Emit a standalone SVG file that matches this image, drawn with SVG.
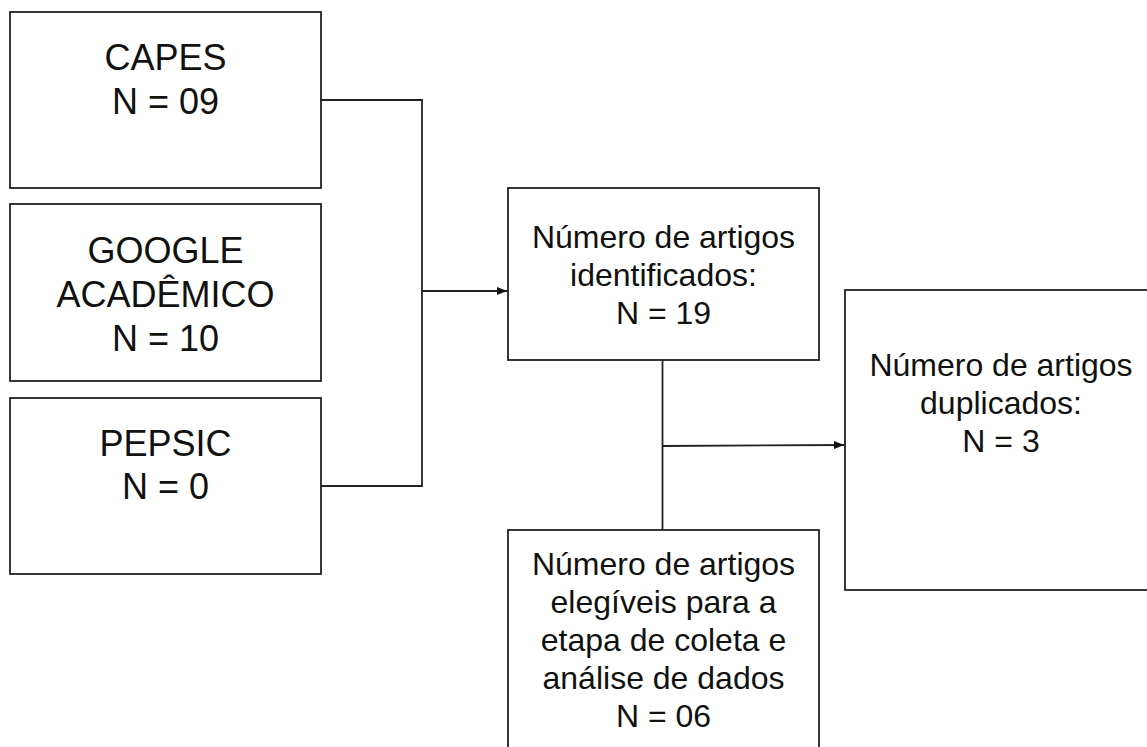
<svg xmlns="http://www.w3.org/2000/svg" width="1147" height="747" viewBox="0 0 1147 747">
<style>
.box{fill:#fff;stroke:#222;stroke-width:1.8}
.big{font-family:"Liberation Sans",Arial,sans-serif;font-size:36px;fill:#111;text-anchor:middle}
.mid{font-family:"Liberation Sans",Arial,sans-serif;font-size:32px;fill:#111;text-anchor:middle}
.ln{fill:none;stroke:#222;stroke-width:1.8}
</style>
<defs>
<marker id="arr" viewBox="0 0 10 8" refX="10" refY="4" markerWidth="10" markerHeight="8" markerUnits="userSpaceOnUse" orient="auto">
<path d="M0,0 L10,4 L0,8 Z" fill="#111"/>
</marker>
</defs>
<rect width="1147" height="747" fill="#fff"/>
<g id="connectors">
<path class="ln" d="M321,100 H422 V486 H321"/>
<path class="ln" d="M422,291 H507" marker-end="url(#arr)"/>
<path class="ln" d="M662.5,360 V530"/>
<path class="ln" d="M662.5,446 L844,445" marker-end="url(#arr)"/>
</g>
<g id="capes">
<rect class="box" x="10" y="12" width="311" height="176"/>
<text class="big" x="165.5" y="70">CAPES</text>
<text class="big" x="165.5" y="114">N = 09</text>
</g>
<g id="google">
<rect class="box" x="10" y="204" width="311" height="177"/>
<text class="big" x="165.5" y="263">GOOGLE</text>
<text class="big" x="165.5" y="307">ACADÊMICO</text>
<text class="big" x="165.5" y="351">N = 10</text>
</g>
<g id="pepsic">
<rect class="box" x="10" y="398" width="311" height="176"/>
<text class="big" x="165.5" y="456">PEPSIC</text>
<text class="big" x="165.5" y="499">N = 0</text>
</g>
<g id="identificados">
<rect class="box" x="508" y="188" width="311" height="172"/>
<text class="mid" x="663.5" y="248">Número de artigos</text>
<text class="mid" x="663.5" y="286">identificados:</text>
<text class="mid" x="663.5" y="324">N = 19</text>
</g>
<g id="duplicados">
<rect class="box" x="845" y="290" width="320" height="300"/>
<text class="mid" x="1001" y="376">Número de artigos</text>
<text class="mid" x="1001" y="414">duplicados:</text>
<text class="mid" x="1001" y="452">N = 3</text>
</g>
<g id="elegiveis">
<rect class="box" x="508" y="530" width="311" height="240"/>
<text class="mid" x="663.5" y="575">Número de artigos</text>
<text class="mid" x="663.5" y="613">elegíveis para a</text>
<text class="mid" x="663.5" y="651">etapa de coleta e</text>
<text class="mid" x="663.5" y="689">análise de dados</text>
<text class="mid" x="663.5" y="727">N = 06</text>
</g>
</svg>
